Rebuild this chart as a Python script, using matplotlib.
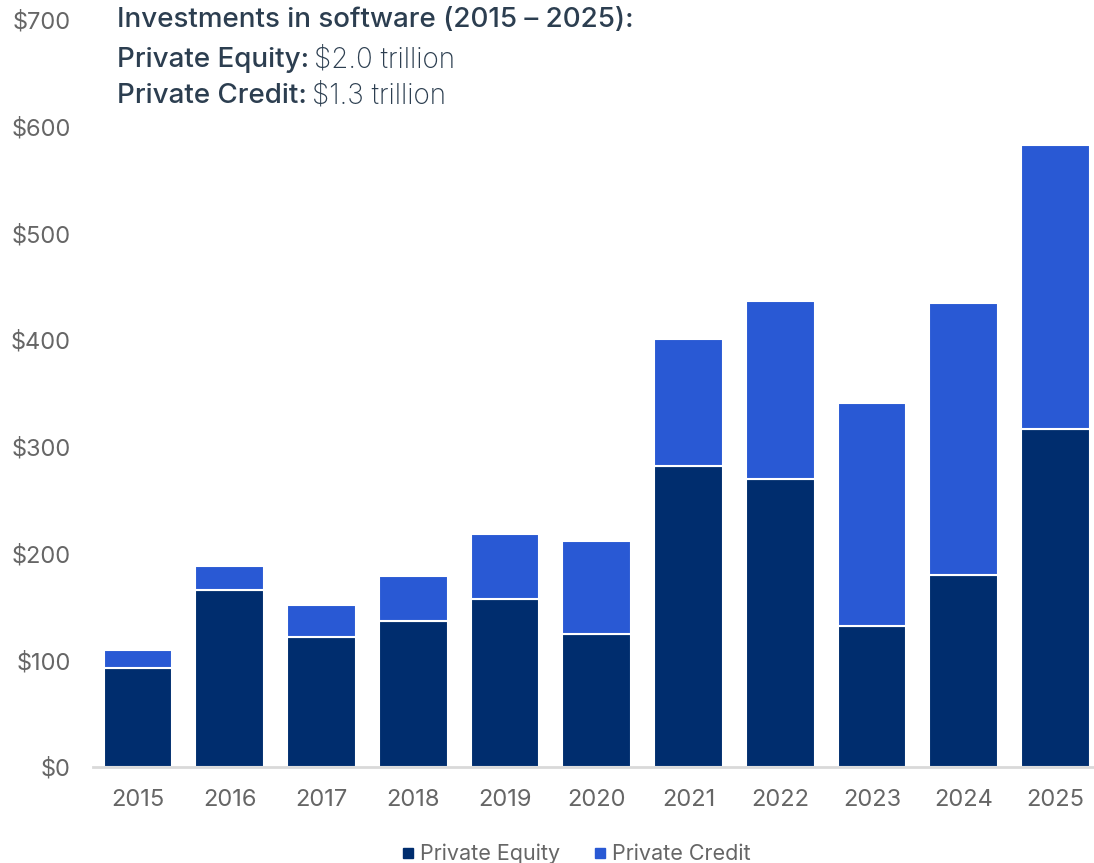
import matplotlib.pyplot as plt
from matplotlib.lines import Line2D

plt.rcParams['font.family'] = ['Inter', 'DejaVu Sans']

years = ['2015', '2016', '2017', '2018', '2019', '2020', '2021', '2022', '2023', '2024', '2025']
private_equity = [93, 166, 122, 137, 157, 125, 282, 270, 132, 180, 317]
private_credit = [17, 22, 30, 42, 61, 87, 119, 167, 209, 255, 266]
y_ticks = [0, 100, 200, 300, 400, 500, 600, 700]

pe_color = '#002D6E'
pc_color = '#2959D4'
text_color = '#2C3E50'
tick_color = '#666666'

fig = plt.figure(figsize=(10.94, 8.63), dpi=100)
ax = fig.add_axes([0.085, 0.1112, 0.915, 0.8656])

x = range(len(years))
ax.bar(x, private_equity, width=0.75, color=pe_color, edgecolor='white', linewidth=1.5, zorder=2)
ax.bar(x, private_credit, width=0.75, bottom=private_equity, color=pc_color,
       edgecolor='white', linewidth=1.5, zorder=2)

ax.set_xlim(-0.49, 10.42)
ax.set_ylim(0, 700)
ax.set_yticks(y_ticks)
ax.set_yticklabels([f'${v}' for v in y_ticks])
ax.set_xticks(list(x))
ax.set_xticklabels(years)
ax.tick_params(axis='both', length=0, labelsize=17, labelcolor=tick_color)
ax.tick_params(axis='y', pad=16)
ax.tick_params(axis='x', pad=16)
for side in ['top', 'right', 'left']:
    ax.spines[side].set_visible(False)
ax.spines['bottom'].set_color('#D9D9D9')
ax.spines['bottom'].set_linewidth(2)
ax.spines['bottom'].set_zorder(3)

# headline block
tx = 117 / 1094
fig.text(tx, 0.977, 'Investments in software (2015 \u2013 2025):', fontsize=20,
         color=text_color, va='center', ha='left', fontweight='medium')
fig.canvas.draw()
renderer = fig.canvas.get_renderer()
for ypos, label, value in [(0.930, 'Private Equity:', '$2.0 trillion'),
                           (0.889, 'Private Credit:', '$1.3 trillion')]:
    t = fig.text(tx, ypos, label, fontsize=20, color=text_color, va='center',
                 ha='left', fontweight='medium')
    bb = t.get_window_extent(renderer=renderer)
    fig.text((bb.x1 + 5) / fig.bbox.width, ypos, value, fontsize=20, color=text_color,
             va='center', ha='left', fontweight='light')

handles = [Line2D([], [], marker='s', linestyle='none', markersize=6.5, color=pe_color),
           Line2D([], [], marker='s', linestyle='none', markersize=6.5, color=pc_color)]
fig.legend(handles, ['Private Equity', 'Private Credit'], loc='lower center',
           bbox_to_anchor=(0.522, -0.024), ncol=2, frameon=False, fontsize=15.5,
           labelcolor=tick_color, handletextpad=-0.2, columnspacing=1.1,
           handlelength=1.5)

fig.savefig('out.png', dpi=100)
